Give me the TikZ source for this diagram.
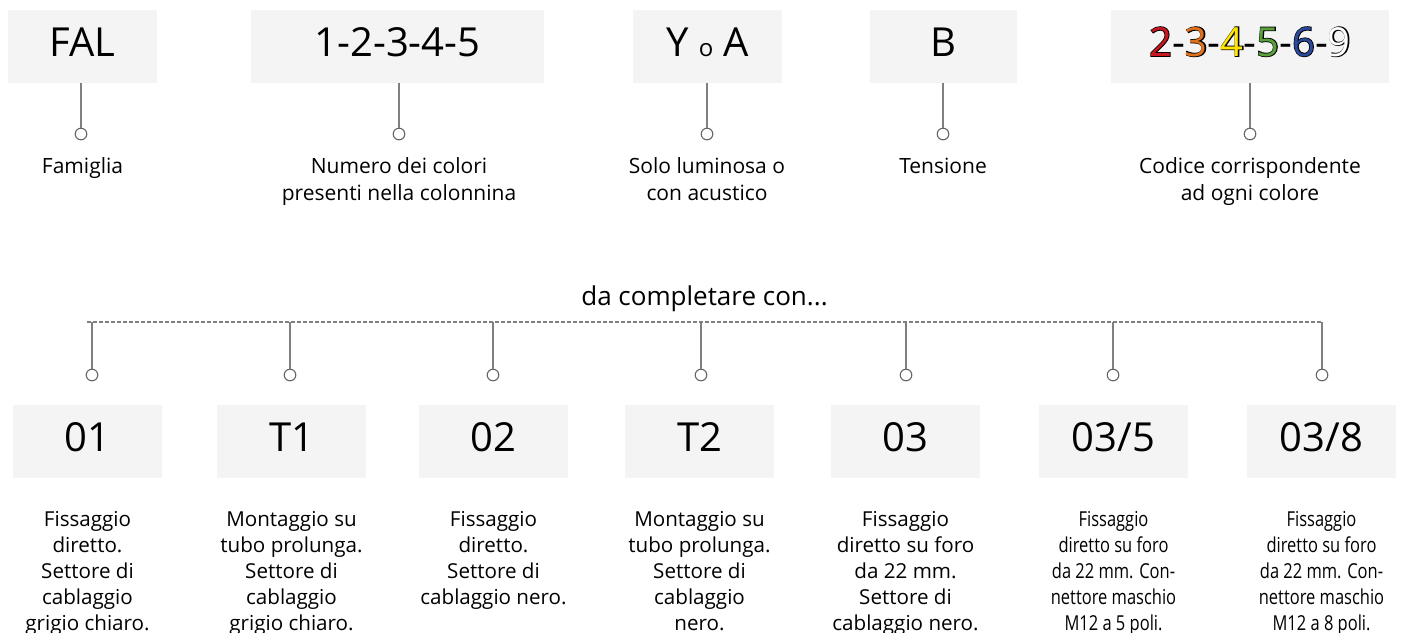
\documentclass[tikz,border=0pt]{standalone}
\usepackage{fontspec}
\setmainfont{Open Sans}
\newfontfamily\condfont[FakeStretch=0.8]{Open Sans}
\newfontfamily\outlfont[FakeBold=4]{Open Sans}
\definecolor{boxgray}{HTML}{F4F4F4}
\definecolor{linegray}{HTML}{808080}
\definecolor{pingray}{HTML}{666666}
\definecolor{cred}{HTML}{C8171E}
\definecolor{corange}{HTML}{E2711D}
\definecolor{cyellow}{HTML}{FFE500}
\definecolor{cgreen}{HTML}{5B9F3C}
\definecolor{cblue}{HTML}{2B4A9B}
\newcommand\cdig[2]{\makebox[0pt][l]{\outlfont\color{black}#2}\textcolor{#1}{#2}}
\tikzset{
  codebox/.style={fill=boxgray, draw=none, minimum height=36.5pt, minimum width=74.5pt,
    inner sep=0pt, font=\fontsize{20}{24}\selectfont, text height=14pt, text depth=4.5pt},
  stem/.style={draw=linegray, line width=0.7pt},
  pin/.style={circle, draw=pingray, fill=white, line width=0.55pt, minimum size=5.8pt, inner sep=0pt},
  lab/.style={align=center, anchor=base, font=\fontsize{10.5}{13.5}\selectfont, inner sep=0pt},
  desc/.style={align=center, anchor=base, font=\fontsize{10.3}{13}\selectfont, inner sep=0pt},
  cdesc/.style={desc, font=\fontsize{10.3}{13}\condfont},
  guide/.style={draw=linegray, line width=0.6pt, dash pattern=on 2pt off 1pt},
}
\begin{document}
\begin{tikzpicture}[x=0.5pt,y=-0.5pt]
\useasboundingbox (0,0) rectangle (1402,632);

% top row
\node[codebox] (fal) at (82.5,46.5) {FAL};
\node[codebox, minimum width=146.5pt] (num) at (397.5,46.5) {1-2-3-4-5};
\node[codebox] (ya) at (707.5,46.5) {Y {\fontsize{12}{12}\selectfont o} A};
\node[codebox, minimum width=73.5pt] (tb) at (943.5,46.5) {B};
\node[codebox, minimum width=139pt] (col) at (1250,46.5)
  {\cdig{cred}{2}-\cdig{corange}{3}-\cdig{cyellow}{4}-\cdig{cgreen}{5}-\cdig{cblue}{6}-\cdig{white}{9}};

\node[pin] (p1) at (81,134) {};
\node[pin] (p2) at (399,134) {};
\node[pin] (p3) at (707,134) {};
\node[pin] (p4) at (943,134) {};
\node[pin] (p5) at (1250,134) {};

\draw[stem] (p1.north) -- (p1.north |- fal.south);
\draw[stem] (p2.north) -- (p2.north |- num.south);
\draw[stem] (p3.north) -- (p3.north |- ya.south);
\draw[stem] (p4.north) -- (p4.north |- tb.south);
\draw[stem] (p5.north) -- (p5.north |- col.south);

% anchor=base is the baseline of the last line
\node[lab] (l1) at (82.5,173) {Famiglia};
\node[lab] (l2) at (399,200) {Numero dei colori\\presenti nella colonnina};
\node[lab] (l3) at (707,200) {Solo luminosa o\\con acustico};
\node[lab] (l4) at (943,173) {Tensione};
\node[lab] (l5) at (1250,200) {Codice corrispondente\\ad ogni colore};

% bottom row
\node[anchor=base, inner sep=0pt, font=\fontsize{13}{15}\selectfont] (dc) at (704.5,305) {da completare con...};
\coordinate (dl) at (87,322);
\coordinate (dr) at (1322,322);
\draw[guide] (dl) -- (dr);

\node[codebox] (b1) at (87.5,441.5) {01};
\node[codebox] (b2) at (291.5,441.5) {T1};
\node[codebox] (b3) at (493.5,441.5) {02};
\node[codebox] (b4) at (699.5,441.5) {T2};
\node[codebox] (b5) at (905.5,441.5) {03};
\node[codebox] (b6) at (1113.5,441.5) {03/5};
\node[codebox] (b7) at (1321.5,441.5) {03/8};

\node[pin] (q1) at (92,375) {};
\node[pin] (q2) at (290,375) {};
\node[pin] (q3) at (493,375) {};
\node[pin] (q4) at (701,375) {};
\node[pin] (q5) at (906,375) {};
\node[pin] (q6) at (1113,375) {};
\node[pin] (q7) at (1322,375) {};

\foreach \q in {q1,q2,q3,q4,q5,q6,q7}
  \draw[stem] (\q.north) -- (\q.north |- dl);

\node[desc] (d1) at (87.5,630) {Fissaggio\\diretto.\\Settore di\\cablaggio\\grigio chiaro.};
\node[desc] (d2) at (291.5,630) {Montaggio su\\tubo prolunga.\\Settore di\\cablaggio\\grigio chiaro.};
\node[desc] (d3) at (493.5,604) {Fissaggio\\diretto.\\Settore di\\cablaggio nero.};
\node[desc] (d4) at (699.5,630) {Montaggio su\\tubo prolunga.\\Settore di\\cablaggio\\nero.};
\node[desc] (d5) at (905.5,630) {Fissaggio\\diretto su foro\\da 22 mm.\\Settore di\\cablaggio nero.};
\node[cdesc] (d6) at (1113.5,630) {Fissaggio\\diretto su foro\\da 22 mm. Con-\\nettore maschio\\M12 a 5 poli.};
\node[cdesc] (d7) at (1321.5,630) {Fissaggio\\diretto su foro\\da 22 mm. Con-\\nettore maschio\\M12 a 8 poli.};
\end{tikzpicture}
\end{document}
